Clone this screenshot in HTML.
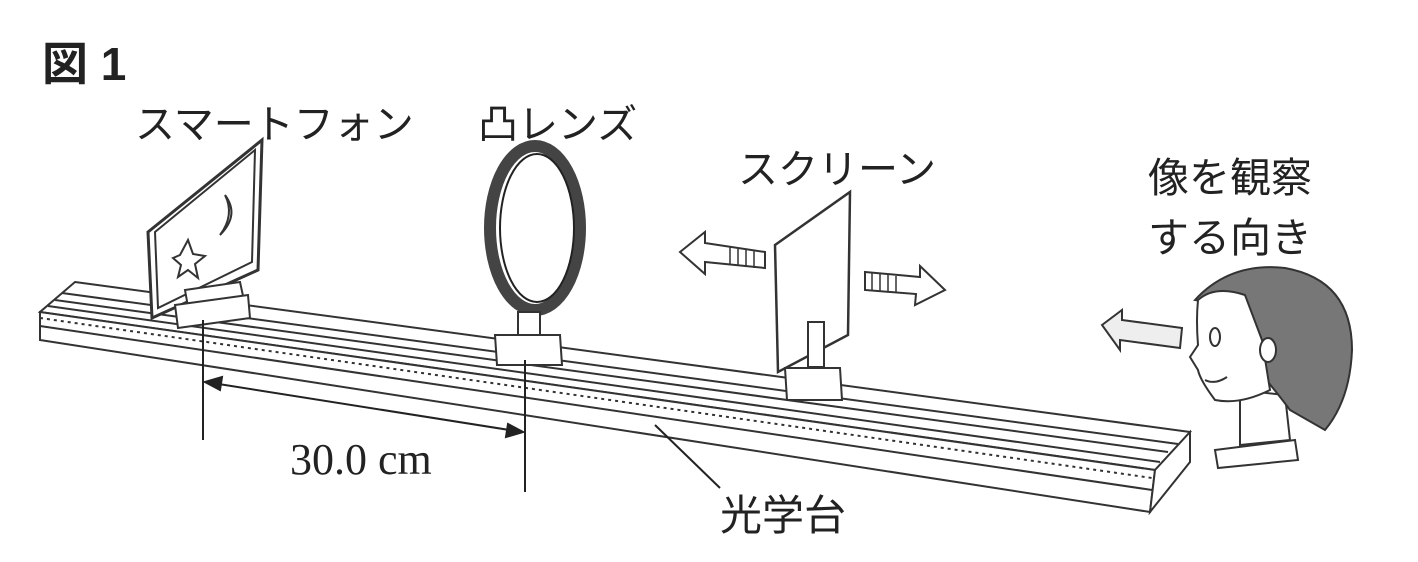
<!DOCTYPE html>
<html><head><meta charset="utf-8"><style>
body{margin:0;background:#fff;width:1418px;height:562px;overflow:hidden}
svg{display:block}
text{font-family:"Liberation Sans","Noto Sans CJK JP",sans-serif;fill:#222}
</style></head><body>
<svg width="1418" height="562" viewBox="0 0 1418 562">
<text x="42" y="80" font-size="46" font-weight="bold">図 1</text>
<text x="135" y="138" font-size="40">スマートフォン</text>
<text x="478" y="138" font-size="40">凸レンズ</text>
<text x="738" y="183" font-size="40">スクリーン</text>
<text x="1148" y="192" font-size="41">像を観察</text>
<text x="1148" y="252" font-size="41">する向き</text>
<text x="290" y="474" font-size="44" style="font-family:'Liberation Serif',serif">30.0 cm</text>
<text x="720" y="530" font-size="42">光学台</text>

<g stroke="#333" stroke-width="2" fill="#fff">
<polygon points="75,282 1190,432 1155,470 40,312"/>
<polygon points="40,312 1155,470 1150,512 40,340"/>
<polygon points="1155,470 1190,432 1190,462 1150,512"/>
<line x1="62" y1="293" x2="1178" y2="444"/>
<line x1="55" y1="300" x2="1168" y2="452"/>
<line x1="48" y1="306" x2="1160" y2="462"/>
<line x1="40" y1="318" x2="1152" y2="478" stroke-dasharray="3,4"/>
<line x1="40" y1="326" x2="1152" y2="490"/>
<polygon points="148,232 262,140 258,270 152,318" stroke-width="3"/>
<polygon points="155,232 255,150 252,262 158,308"/>
<path d="M180,255 l8,-15 l5,14 l12,2 l-10,8 l3,14 l-10,-8 l-10,7 l3,-12 l-8,-7z" fill="none"/>
<path d="M225,195 q15,20 -5,40 q15,-20 5,-40z"/>
<polygon points="185,290 240,282 245,305 190,318"/>
<polygon points="175,305 248,295 250,318 178,328"/>
<ellipse cx="535" cy="228" rx="45" ry="82" fill="none" stroke="#444" stroke-width="12"/>
<ellipse cx="537" cy="228" rx="37" ry="74" fill="none" stroke="#222" stroke-width="2"/>
<rect x="518" y="312" width="22" height="24"/>
<polygon points="495,335 560,335 562,365 497,365"/>
<polygon points="775,245 850,192 848,335 778,372" stroke-width="2.5"/>
<rect x="808" y="322" width="16" height="45"/>
<polygon points="785,368 840,368 842,400 787,400"/>
<polygon points="680,252 705,232 705,243 765,252 765,268 705,262 705,274" fill="#fff"/>
<g stroke-width="1.5"><line x1="730" y1="247" x2="730" y2="265"/><line x1="738" y1="248" x2="738" y2="266"/><line x1="746" y1="249" x2="746" y2="267"/><line x1="754" y1="250" x2="754" y2="268"/></g>
<polygon points="865,272 920,277 920,266 945,290 915,305 916,294 865,290"/>
<g stroke-width="1.5"><line x1="872" y1="273" x2="872" y2="290"/><line x1="880" y1="274" x2="880" y2="291"/><line x1="888" y1="275" x2="888" y2="292"/><line x1="896" y1="276" x2="896" y2="293"/></g>
<polygon points="1102,325 1122,310 1122,320 1182,328 1180,348 1120,340 1120,350" fill="#eee"/>
<polygon points="1215,450 1295,440 1298,460 1218,468"/>
<path d="M1240,390 L1240,445 L1290,440 L1285,395z"/>
<path d="M1195,300 Q1230,262 1285,268 Q1352,280 1352,350 Q1350,400 1325,430 L1290,410 Q1275,390 1262,375 L1250,310z" fill="#777"/>
<path d="M1198,300 Q1215,285 1245,295 L1262,340 L1270,390 Q1240,405 1215,400 Q1200,380 1198,370 L1190,357 L1198,345 Q1196,320 1198,300z"/>
<ellipse cx="1215" cy="337" rx="5" ry="9" fill="none"/>
<path d="M1205,380 q10,5 22,-3" fill="none"/>
<ellipse cx="1268" cy="350" rx="8" ry="12" fill="#fff"/>
</g>
<g stroke="#222" stroke-width="2" fill="#222">
<line x1="203" y1="320" x2="203" y2="440"/>
<line x1="525" y1="360" x2="525" y2="492"/>
<line x1="206" y1="382" x2="522" y2="432"/>
<polygon points="205,382 222,377 220,390"/>
<polygon points="523,432 506,437 508,424"/>
<line x1="655" y1="425" x2="720" y2="488"/>
</g>
</svg>
</body></html>
